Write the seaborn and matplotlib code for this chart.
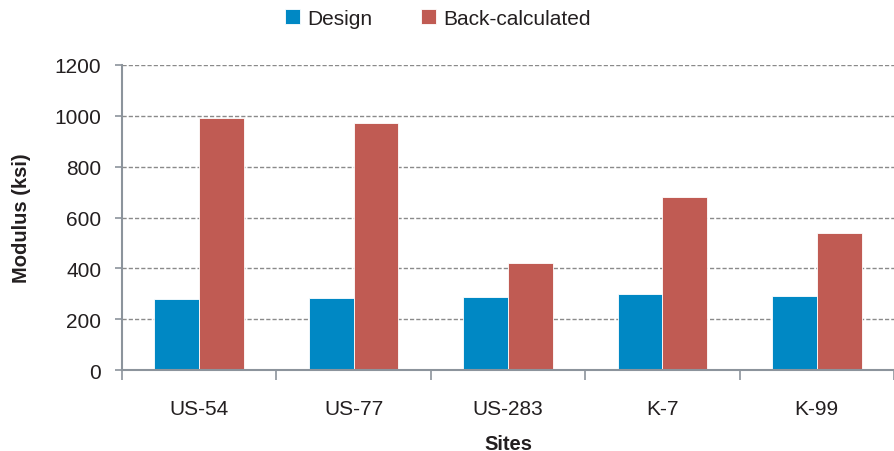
import numpy as np
import pandas as pd
import seaborn as sns
import matplotlib.pyplot as plt

# Chart data
sites = ['US-54', 'US-77', 'US-283', 'K-7', 'K-99']
design = [280, 283, 287, 298, 290]
back_calculated = [990, 970, 420, 680, 538]

df = pd.DataFrame({
    'Sites': sites * 2,
    'Modulus': design + back_calculated,
    'Type': ['Design'] * len(sites) + ['Back-calculated'] * len(sites),
})

sns.set_style('white')
plt.rcParams['font.family'] = ['Liberation Sans', 'DejaVu Sans']

fig = plt.figure(figsize=(8.94, 4.52), dpi=100)
ax = fig.add_axes([0.1365, 0.179, 0.8635, 0.675])

sns.barplot(data=df, x='Sites', y='Modulus', hue='Type',
            palette=['#0088c4', '#c05b53'], width=0.58,
            edgecolor='white', linewidth=0.6, saturation=1, ax=ax)

ax.set_ylim(0, 1200)
ax.set_xlim(-0.5, len(sites) - 0.5)
ax.set_yticks(range(0, 1201, 200))
ax.yaxis.grid(True, linestyle=(0, (3, 1.5)), color='#8a8a8a', linewidth=1)
ax.set_axisbelow(True)

for s in ['top', 'right']:
    ax.spines[s].set_visible(False)
for s in ['left', 'bottom']:
    ax.spines[s].set_color('#8c949c')
    ax.spines[s].set_linewidth(1.5)

# category boundary ticks
ax.set_xticks(np.arange(-0.5, len(sites), 1), minor=True)
ax.tick_params(axis='x', which='minor', length=7, width=1.2, color='#8c949c', direction='out')
ax.tick_params(axis='x', which='major', length=0, pad=21, labelsize=15, colors='#231f20')
ax.tick_params(axis='y', length=5, width=1.2, color='#8c949c', direction='out',
               labelsize=15, pad=10, labelcolor='#231f20')
ax.tick_params(axis='both', which='both', bottom=True, left=True)
ax.set_xticks(range(len(sites)))
ax.set_xticklabels(sites)

ax.set_xlabel('Sites', fontsize=14.5, fontweight='bold', color='#231f20')
ax.set_ylabel('Modulus (ksi)', fontsize=14.5, fontweight='bold', color='#231f20')
ax.xaxis.set_label_coords(0.5, -0.208)
ax.yaxis.set_label_coords(-0.118, 0.5)

ax.legend(loc='upper center', bbox_to_anchor=(0.409, 1.245), ncol=2, frameon=False,
          fontsize=15, handlelength=0.75, handleheight=0.75, columnspacing=2.3,
          handletextpad=0.35, title=None, labelcolor='#231f20')

fig.savefig('out.png', dpi=100)
